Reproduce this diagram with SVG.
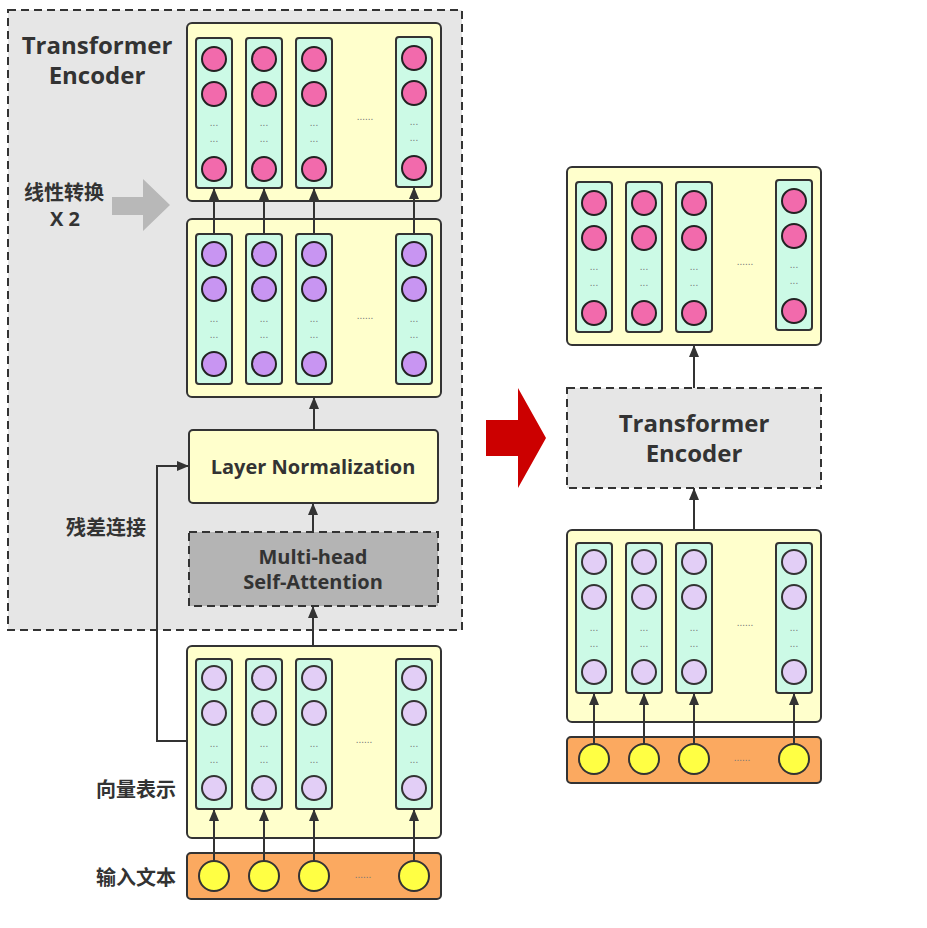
<svg xmlns="http://www.w3.org/2000/svg" xmlns:xlink="http://www.w3.org/1999/xlink" width="927" height="928" viewBox="0 0 927 928">
<style>
.box{fill:#ffffcc;stroke:#333;stroke-width:2}
.col{fill:#ccfae6;stroke:#333;stroke-width:2}
.pk{fill:#f26aac;stroke:#222;stroke-width:2}
.pu{fill:#c895f2;stroke:#222;stroke-width:2}
.lv{fill:#e2cef6;stroke:#333;stroke-width:2}
.yc{fill:#ffff44;stroke:#333;stroke-width:2}
.inp{fill:#fba960;stroke:#333;stroke-width:2}
.dash{stroke:#333;stroke-width:2;stroke-dasharray:8 5}
.lbl{font-family:"Open Sans","Noto Sans",sans-serif;font-weight:bold;fill:#333;text-anchor:middle}
.cn{font-family:"Noto Sans CJK SC",sans-serif;font-weight:bold;fill:#333;text-anchor:middle;font-size:20px}
.dt{font-family:"Liberation Sans",sans-serif;font-size:10px;fill:#777;text-anchor:middle}
.ln{stroke:#333;stroke-width:2;fill:none}
</style>
<defs>
<marker id="ah" markerUnits="userSpaceOnUse" markerWidth="12" markerHeight="10" refX="12" refY="5" orient="auto">
<path d="M0,0 L12,5 L0,10 z" fill="#333"/>
</marker>
<g id="cPk"><rect class="col" x="-18" y="0" width="36" height="150" rx="3"/><circle class="pk" cx="0" cy="21" r="12"/><circle class="pk" cx="0" cy="56" r="12"/><circle class="pk" cx="0" cy="131" r="12"/><text class="dt" x="0" y="88">...</text><text class="dt" x="0" y="104">...</text></g>
<g id="cPu"><rect class="col" x="-18" y="0" width="36" height="150" rx="3"/><circle class="pu" cx="0" cy="20" r="12"/><circle class="pu" cx="0" cy="55" r="12"/><circle class="pu" cx="0" cy="130" r="12"/><text class="dt" x="0" y="88">...</text><text class="dt" x="0" y="104">...</text></g>
<g id="cLv"><rect class="col" x="-18" y="0" width="36" height="150" rx="3"/><circle class="lv" cx="0" cy="19" r="12"/><circle class="lv" cx="0" cy="54" r="12"/><circle class="lv" cx="0" cy="129" r="12"/><text class="dt" x="0" y="88">...</text><text class="dt" x="0" y="104">...</text></g>
</defs>
<rect width="927" height="928" fill="#ffffff"/>

<g id="encoder-frame">
<rect x="8" y="10" width="454" height="620" fill="#e6e6e6" class="dash"/>
<text class="lbl" x="97" y="54" font-size="24">Transformer</text>
<text class="lbl" x="97" y="84" font-size="24">Encoder</text>
</g>

<g id="linear-label">
<text class="cn" x="64" y="200">线性转换</text>
<text class="lbl" x="65" y="226" font-size="20">X 2</text>
<path d="M112,197 H143 V179 L170,205 L143,231 V215 H112 z" fill="#b8b8b8"/>
</g>

<g id="output-pink-left">
<rect class="box" x="187" y="23" width="254" height="178" rx="5"/>
<use xlink:href="#cPk" x="214" y="38"/>
<use xlink:href="#cPk" x="264" y="38"/>
<use xlink:href="#cPk" x="314" y="38"/>
<use xlink:href="#cPk" x="414" y="37"/>
<text class="dt" x="365" y="120">......</text>
</g>

<g id="hidden-purple">
<rect class="box" x="187" y="219" width="254" height="178" rx="5"/>
<use xlink:href="#cPu" x="214" y="234"/>
<use xlink:href="#cPu" x="264" y="234"/>
<use xlink:href="#cPu" x="314" y="234"/>
<use xlink:href="#cPu" x="414" y="234"/>
<text class="dt" x="365" y="319">......</text>
</g>

<g id="layer-norm">
<rect class="box" x="189" y="430" width="249" height="73" rx="4"/>
<text class="lbl" x="313" y="474" font-size="20">Layer Normalization</text>
</g>

<g id="residual-label">
<text class="cn" x="106" y="535">残差连接</text>
</g>

<g id="multi-head">
<rect x="189" y="532" width="249" height="74" fill="#b4b4b4" class="dash"/>
<text class="lbl" x="313" y="564" font-size="20">Multi-head</text>
<text class="lbl" x="313" y="589" font-size="20">Self-Attention</text>
</g>

<g id="vector-left">
<rect class="box" x="187" y="646" width="254" height="192" rx="5"/>
<use xlink:href="#cLv" x="214" y="659"/>
<use xlink:href="#cLv" x="264" y="659"/>
<use xlink:href="#cLv" x="314" y="659"/>
<use xlink:href="#cLv" x="414" y="659"/>
<text class="dt" x="364" y="743">......</text>
<text class="cn" x="136" y="797">向量表示</text>
</g>

<g id="input-left">
<rect class="inp" x="187" y="853" width="254" height="46" rx="4"/>
<circle class="yc" cx="214" cy="876" r="15"/>
<circle class="yc" cx="264" cy="876" r="15"/>
<circle class="yc" cx="314" cy="876" r="15"/>
<circle class="yc" cx="414" cy="876" r="15"/>
<text class="dt" x="363" y="878">......</text>
<text class="cn" x="136" y="885">输入文本</text>
</g>

<g id="red-arrow">
<path d="M486,420 H518 V388 L546,438 L518,488 V456 H486 z" fill="#cc0000"/>
</g>

<g id="output-pink-right">
<rect class="box" x="567" y="167" width="254" height="178" rx="5"/>
<use xlink:href="#cPk" x="594" y="182"/>
<use xlink:href="#cPk" x="644" y="182"/>
<use xlink:href="#cPk" x="694" y="182"/>
<use xlink:href="#cPk" x="794" y="180"/>
<text class="dt" x="745" y="265">......</text>
</g>

<g id="encoder-right">
<rect x="567" y="388" width="254" height="100" fill="#e6e6e6" class="dash"/>
<text class="lbl" x="694" y="432" font-size="24">Transformer</text>
<text class="lbl" x="694" y="462" font-size="24">Encoder</text>
</g>

<g id="vector-right">
<rect class="box" x="567" y="530" width="254" height="192" rx="5"/>
<use xlink:href="#cLv" x="594" y="543"/>
<use xlink:href="#cLv" x="644" y="543"/>
<use xlink:href="#cLv" x="694" y="543"/>
<use xlink:href="#cLv" x="794" y="543"/>
<text class="dt" x="745" y="626">......</text>
</g>

<g id="input-right">
<rect class="inp" x="567" y="737" width="254" height="46" rx="4"/>
<circle class="yc" cx="594" cy="759" r="15"/>
<circle class="yc" cx="644" cy="759" r="15"/>
<circle class="yc" cx="694" cy="759" r="15"/>
<circle class="yc" cx="794" cy="759" r="15"/>
<text class="dt" x="742" y="761">......</text>
</g>

<g id="connectors">
<line class="ln" x1="214" y1="234" x2="214" y2="188" marker-end="url(#ah)"/>
<line class="ln" x1="264" y1="234" x2="264" y2="188" marker-end="url(#ah)"/>
<line class="ln" x1="314" y1="234" x2="314" y2="188" marker-end="url(#ah)"/>
<line class="ln" x1="414" y1="234" x2="414" y2="187" marker-end="url(#ah)"/>
<line class="ln" x1="314" y1="430" x2="314" y2="397" marker-end="url(#ah)"/>
<line class="ln" x1="313" y1="532" x2="313" y2="503" marker-end="url(#ah)"/>
<line class="ln" x1="313" y1="646" x2="313" y2="606" marker-end="url(#ah)"/>
<polyline class="ln" points="187,741 157,741 157,466 189,466" marker-end="url(#ah)"/>
<line class="ln" x1="214" y1="861" x2="214" y2="809" marker-end="url(#ah)"/>
<line class="ln" x1="264" y1="861" x2="264" y2="809" marker-end="url(#ah)"/>
<line class="ln" x1="314" y1="861" x2="314" y2="809" marker-end="url(#ah)"/>
<line class="ln" x1="414" y1="861" x2="414" y2="809" marker-end="url(#ah)"/>
<line class="ln" x1="694" y1="388" x2="694" y2="345" marker-end="url(#ah)"/>
<line class="ln" x1="694" y1="530" x2="694" y2="488" marker-end="url(#ah)"/>
<line class="ln" x1="594" y1="744" x2="594" y2="693" marker-end="url(#ah)"/>
<line class="ln" x1="644" y1="744" x2="644" y2="693" marker-end="url(#ah)"/>
<line class="ln" x1="694" y1="744" x2="694" y2="693" marker-end="url(#ah)"/>
<line class="ln" x1="794" y1="744" x2="794" y2="693" marker-end="url(#ah)"/>
</g>
</svg>
